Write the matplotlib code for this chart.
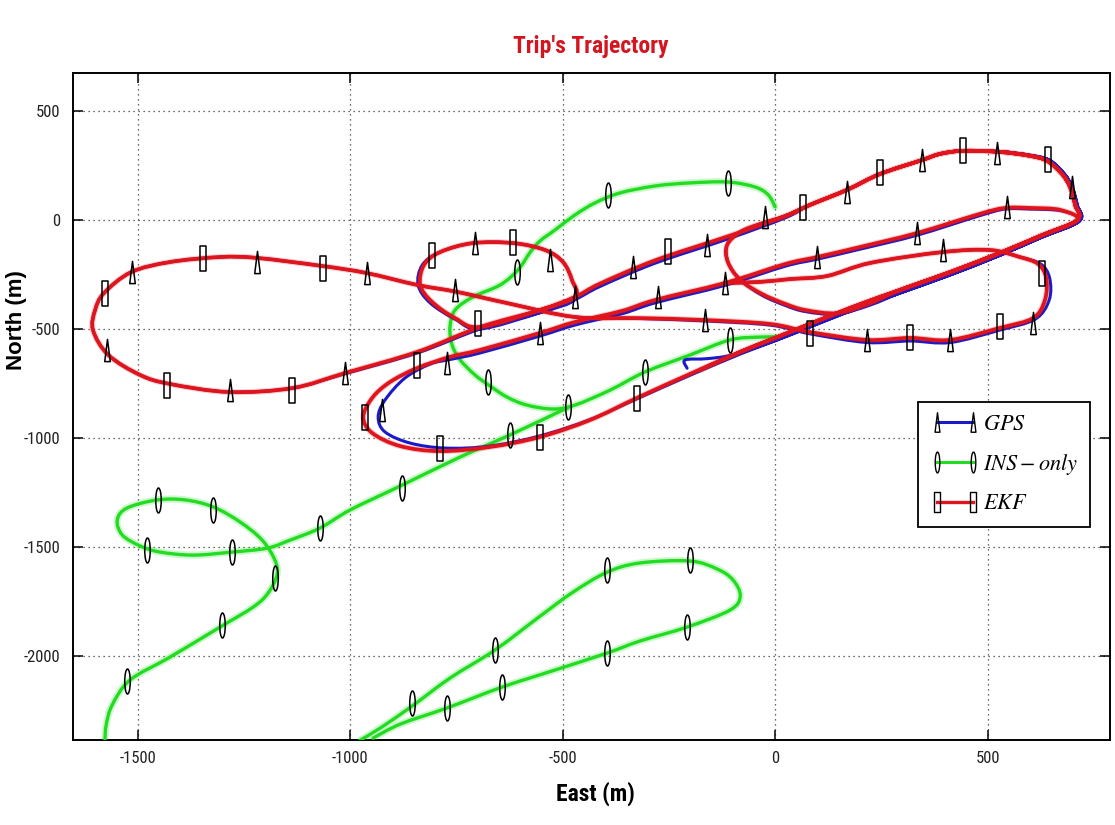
import numpy as np
import matplotlib
matplotlib.use("Agg")
import matplotlib.pyplot as plt
from matplotlib.path import Path
from matplotlib.patches import PathPatch
from matplotlib.lines import Line2D
from matplotlib import font_manager as fm

# ---------------------------------------------------------------- data (metres)
# EKF solution, (east, north) along the drive
ekf_route = [
    # departure towards the north-east turning point
    (-176, -688), (-82, -605), (5, -537), (176, -404), (294, -321), (412, -239),
    (529, -151), (624, -73), (711, 0),
    # westbound leg and south-west hairpin, back to the turning point
    (671, 46), (600, 55), (541, 55), (482, 28), (334, -60), (200, -124), (99, -170),
    (24, -202), (-118, -289), (-282, -367), (-360, -417), (-471, -468), (-553, -518),
    (-694, -596), (-765, -628), (-842, -679), (-906, -743), (-948, -816), (-969, -904),
    (-948, -977), (-882, -1037), (-788, -1060), (-671, -1041), (-553, -995),
    (-435, -917), (-325, -816), (-200, -706), (-82, -605), (5, -537), (176, -404),
    (294, -321), (412, -239), (529, -151), (624, -73), (711, 0),
    # north-east lobe and central loop
    (706, 69), (694, 151), (675, 211), (640, 271), (600, 294), (529, 312), (442, 317),
    (388, 303), (346, 275), (247, 211), (169, 138), (82, 69), (24, 18), (-35, -18),
    (-82, -55), (-113, -115), (-111, -193), (-82, -275), (-31, -339), (24, -385),
    (71, -413), (146, -427), (224, -381), (294, -321), (412, -239), (529, -151),
    (624, -73), (711, 0),
    # second pass over the lobe, then heading west
    (706, 69), (694, 151), (675, 211), (640, 271), (600, 294), (529, 312), (442, 317),
    (388, 303), (346, 275), (247, 211), (169, 138), (82, 69), (24, 18), (-111, -75),
    (-282, -185), (-412, -292), (-471, -353), (-553, -413), (-694, -491),
    # small loop
    (-753, -450), (-807, -376), (-835, -298), (-826, -206), (-788, -147), (-711, -106),
    (-616, -106), (-541, -138), (-499, -193), (-478, -275), (-471, -353), (-553, -413),
    (-694, -491),
    # western loop, then back east and the south-east lobe
    (-842, -605), (-1012, -702), (-1136, -771), (-1285, -789), (-1424, -752),
    (-1494, -711), (-1569, -619), (-1605, -505), (-1600, -413), (-1579, -335),
    (-1515, -239), (-1424, -193), (-1306, -170), (-1219, -174), (-1066, -211),
    (-962, -243), (-842, -298), (-748, -330), (-631, -381), (-471, -445), (-318, -450),
    (-165, -459), (-12, -477), (82, -514), (216, -550), (318, -541), (412, -550),
    (529, -495), (607, -450), (635, -367), (638, -266), (619, -202), (576, -170),
    (506, -138), (395, -147), (224, -197), (122, -257), (35, -271), (-35, -284),
    (-118, -289),
]

# GPS fixes
gps_route = [
    (-207, -680), (-212, -642), (-160, -636), (-100, -618), (5, -550), (176, -418),
    (294, -335), (412, -252), (529, -162), (624, -82), (716, -5),
    (676, 41), (600, 50), (541, 50), (482, 20), (334, -70), (200, -134), (99, -180),
    (24, -212), (-118, -300), (-282, -380), (-360, -430), (-471, -482), (-553, -532),
    (-694, -610), (-765, -640), (-812, -661), (-871, -725), (-918, -826), (-934, -904),
    (-918, -972), (-859, -1023), (-776, -1046), (-671, -1037), (-553, -990),
    (-435, -915), (-325, -820), (-200, -712), (-82, -615), (5, -550), (176, -418),
    (294, -335), (412, -252), (529, -162), (624, -82), (716, -5),
    (711, 69), (699, 151), (681, 211), (646, 274), (600, 297), (529, 314), (442, 317),
    (388, 303), (346, 275), (247, 211), (169, 138), (82, 69), (24, 18), (-35, -18),
    (-82, -55), (-113, -115), (-111, -193), (-82, -275), (-31, -345), (24, -392),
    (71, -420), (146, -432), (224, -390), (294, -335), (412, -252), (529, -162),
    (624, -82), (716, -5),
    (711, 69), (699, 151), (681, 211), (646, 274), (600, 297), (529, 314), (442, 317),
    (388, 303), (346, 275), (247, 211), (169, 138), (82, 69), (24, 10), (-111, -87),
    (-282, -198), (-412, -305), (-471, -365), (-553, -425), (-694, -500),
    (-753, -455), (-812, -380), (-840, -298), (-830, -206), (-788, -147), (-711, -106),
    (-616, -106), (-541, -138), (-499, -193), (-478, -275), (-471, -365), (-553, -425),
    (-694, -500),
    (-842, -610), (-1012, -705), (-1136, -771), (-1285, -789), (-1424, -752),
    (-1494, -711), (-1569, -619), (-1605, -505), (-1600, -413), (-1579, -335),
    (-1515, -239), (-1424, -193), (-1306, -170), (-1219, -174), (-1066, -211),
    (-962, -243), (-842, -298), (-748, -330), (-631, -381), (-471, -445), (-318, -452),
    (-165, -463), (-12, -482), (82, -522), (216, -562), (318, -555), (412, -562),
    (529, -505), (612, -455), (645, -367), (646, -266), (625, -202), (576, -170),
    (506, -138), (395, -147), (224, -197), (122, -257), (35, -271), (-35, -284),
    (-118, -289),
]

# INS-only dead reckoning (three visible stretches)
ins_route_a = [
    (0, 60), (-16, 115), (-47, 151), (-111, 174), (-200, 170), (-282, 156), (-365, 124),
    (-424, 78), (-471, 23), (-518, -46), (-553, -96), (-576, -147), (-605, -229),
    (-647, -298), (-711, -353), (-753, -413), (-765, -491), (-760, -573), (-741, -642),
    (-706, -711), (-671, -761), (-631, -812), (-584, -849), (-522, -867), (-471, -849),
    (-388, -780), (-306, -697), (-200, -619), (-106, -550), (-35, -537), (5, -537),
]
ins_route_b = [
    (-489, -862), (-624, -986), (-741, -1087), (-882, -1220), (-1000, -1330),
    (-1071, -1413), (-1141, -1468), (-1195, -1505), (-1278, -1523), (-1369, -1537),
    (-1447, -1523), (-1494, -1495), (-1536, -1445), (-1548, -1376), (-1525, -1321),
    (-1454, -1284), (-1388, -1284), (-1322, -1316), (-1259, -1385), (-1207, -1468),
    (-1177, -1560), (-1172, -1628), (-1193, -1711), (-1228, -1775), (-1306, -1867),
    (-1424, -2005), (-1518, -2110), (-1560, -2225), (-1574, -2316), (-1577, -2385),
]
ins_route_c = [
    (-976, -2385), (-929, -2330), (-854, -2229), (-765, -2101), (-659, -1972),
    (-553, -1817), (-475, -1706), (-395, -1615), (-318, -1573), (-200, -1564),
    (-136, -1601), (-99, -1651), (-82, -1725), (-106, -1789), (-207, -1867),
    (-318, -1931), (-395, -1986), (-518, -2064), (-642, -2142), (-772, -2238),
    (-882, -2312), (-946, -2376),
]

# sample markers
gps_marks = [
    (-1513, -239), (-1219, -193), (-960, -243), (-1572, -596), (-1282, -780),
    (-1012, -702), (-753, -321), (-772, -656), (-925, -872), (-553, -518), (-529, -183),
    (-706, -106), (-334, -215), (-160, -115), (-275, -353), (-118, -289), (-165, -459),
    (-24, 14), (-471, -353), (169, 128), (346, 275), (522, 307), (99, -170), (334, -60),
    (395, -138), (216, -550), (412, -550), (699, 151), (546, 60), (607, -472),
]
ekf_marks = [
    (-1576, -335), (-1346, -174), (-1064, -220), (-807, -161), (-616, -101),
    (-699, -472), (-842, -665), (-1431, -757), (-1136, -780), (-965, -904),
    (-788, -1046), (-553, -995), (-325, -816), (-252, -140), (66, 60), (247, 220),
    (442, 321), (642, 280), (82, -518), (318, -537), (529, -486), (628, -243),
]
ins_marks = [
    (-393, 115), (-111, 170), (-607, -239), (-675, -743), (-487, -858), (-306, -697),
    (-106, -550), (-624, -986), (-878, -1229), (-1071, -1413), (-1322, -1330),
    (-1452, -1284), (-1478, -1514), (-1278, -1523), (-1176, -1642), (-1301, -1858),
    (-1525, -2115), (-854, -2215), (-772, -2238), (-642, -2142), (-659, -1972),
    (-395, -1606), (-200, -1560), (-207, -1867), (-395, -1986),
]

x_ticks = [-1500, -1000, -500, 0, 500]
y_ticks = [-2000, -1500, -1000, -500, 0, 500]
series_labels = [r"$GPS$", r"$INS-only$", r"$EKF$"]

# ---------------------------------------------------------------- fonts
fonts = fm.fontManager.ttflist
names = {f.name for f in fonts}
narrow_family, narrow_stretch = "Liberation Sans", "normal"
for cand in ("Liberation Sans Narrow", "Roboto Condensed", "Open Sans Condensed",
             "DejaVu Sans Condensed"):
    if cand in names:
        narrow_family = cand
        break
else:
    for f in fonts:
        if f.name in ("DejaVu Sans", "Open Sans", "Roboto", "Noto Sans") and \
                str(f.stretch) in ("condensed", "semi-condensed", "extra-condensed", "75", "62.5", "87.5"):
            narrow_family, narrow_stretch = f.name, "condensed"
            break

plt.rcParams["font.family"] = [narrow_family, "DejaVu Sans"]
plt.rcParams["font.stretch"] = narrow_stretch
plt.rcParams["axes.unicode_minus"] = False
plt.rcParams["mathtext.fontset"] = "stix"

RED = "#e0141c"
BLUE = "#1a1ac8"
GREEN = "#22dc22"


def smooth(points):
    """Smooth curve through the points (Catmull-Rom as cubic Bezier)."""
    p = np.asarray(points, float)
    n = len(p)
    verts, codes = [p[0]], [Path.MOVETO]
    for i in range(n - 1):
        a, b, c, d = p[max(i - 1, 0)], p[i], p[i + 1], p[min(i + 2, n - 1)]
        verts += [b + (c - a) / 6.0, c - (d - b) / 6.0, c]
        codes += [Path.CURVE4] * 3
    return Path(verts, codes)


def shape(half_w, kind):
    if kind == "rect":
        v = [(-half_w, -1), (half_w, -1), (half_w, 1), (-half_w, 1), (-half_w, -1)]
        return Path(v, closed=True)
    if kind == "tri":
        v = [(-half_w, -1), (half_w, -1), (0, 1), (-half_w, -1)]
        return Path(v, closed=True)
    c = Path.unit_circle()
    return Path(c.vertices * [half_w, 1.0], c.codes)


tri_m = shape(0.25, "tri")
rect_m = shape(0.25, "rect")
oval_m = shape(0.22, "oval")

fig = plt.figure(figsize=(11.15, 8.25), dpi=100)
ax = fig.add_axes([0.0655, 0.103, 0.930, 0.8085])


def draw(points, color, lw, z, halo=None):
    path = smooth(points)
    if halo:
        ax.add_patch(PathPatch(path, fill=False, ec=color, lw=halo, alpha=0.22,
                               zorder=z - 0.1, capstyle="round", joinstyle="round"))
    ax.add_patch(PathPatch(path, fill=False, ec=color, lw=lw, zorder=z,
                           capstyle="round", joinstyle="round"))


for seg in (ins_route_a, ins_route_b, ins_route_c):
    draw(seg, GREEN, 2.4, 3, halo=5.2)
draw(gps_route, BLUE, 2.2, 4)
draw(ekf_route, RED, 2.7, 5, halo=4.2)

mk = dict(linestyle="none", mfc="none", mec="black", mew=1.1, zorder=6)
ax.plot(*zip(*ins_marks), marker=oval_m, ms=18, **mk)
ax.plot(*zip(*gps_marks), marker=tri_m, ms=16, **mk)
ax.plot(*zip(*ekf_marks), marker=rect_m, ms=18, **mk)

ax.set_xlim(-1652, 788)
ax.set_ylim(-2385, 674)
ax.set_xticks(x_ticks)
ax.set_yticks(y_ticks)
ax.grid(True, color="#3a3a3a", linestyle=(0, (1, 3)), linewidth=0.9)
ax.tick_params(direction="in", length=7, width=1.1, top=True, right=True,
               labelsize=12, labelcolor="#222222")
ax.tick_params(axis="x", pad=8)
ax.tick_params(axis="y", pad=9)
for s in ax.spines.values():
    s.set_linewidth(1.4)
    s.set_color("black")

ax.set_xlabel("East (m)", fontsize=17, fontweight="bold")
ax.xaxis.set_label_coords(0.504, -0.062)
ax.set_ylabel("North (m)", fontsize=16, fontweight="bold",
              family=["Liberation Sans", "DejaVu Sans"], stretch="normal")
ax.yaxis.label.set_verticalalignment("center")
ax.yaxis.set_label_coords(-0.055, 0.63)

fig.text(0.530, 0.944, "Trip's Trajectory", ha="center", va="center",
         color="#d4141e", fontsize=17, fontweight="bold")

handles = [
    Line2D([], [], color=BLUE, lw=2.2, marker=tri_m, ms=14, mfc="none", mec="k", mew=1),
    Line2D([], [], color=GREEN, lw=2.2, marker=oval_m, ms=15, mfc="none", mec="k", mew=1),
    Line2D([], [], color=RED, lw=2.4, marker=rect_m, ms=15, mfc="none", mec="k", mew=1),
]
leg = ax.legend(handles, series_labels, loc="upper left", bbox_to_anchor=(0.815, 0.507),
                numpoints=2, fontsize=16, handlelength=2.2, handletextpad=0.15,
                labelspacing=0.75, borderpad=0.55, borderaxespad=0.0,
                fancybox=False, framealpha=1.0, edgecolor="black")
leg.get_frame().set_linewidth(1.3)
leg.set_zorder(10)

fig.savefig("out.png", dpi=100)
